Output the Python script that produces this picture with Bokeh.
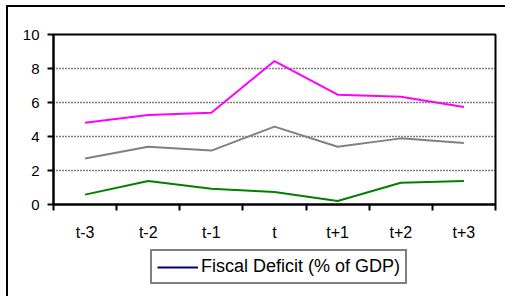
from bokeh.plotting import figure
from bokeh.layouts import column
from bokeh.models import (Range1d, FixedTicker, Legend, LegendItem, ColumnDataSource)
from bokeh.embed import file_html
from bokeh.resources import INLINE

periods = ["t-3", "t-2", "t-1", "t", "t+1", "t+2", "t+3"]
series_pink = [4.81, 5.26, 5.40, 8.44, 6.46, 6.34, 5.74]
series_gray = [2.70, 3.40, 3.17, 4.58, 3.40, 3.89, 3.62]
series_green = [0.58, 1.38, 0.93, 0.74, 0.21, 1.28, 1.38]
y_ticks = [0, 2, 4, 6, 8, 10]
legend_label = "Fiscal Deficit (% of GDP)"

n = len(periods)
xc = [i + 0.5 for i in range(n)]
bounds = list(range(n + 1))

FONT = "Liberation Sans"

p = figure(output_backend="svg", toolbar_location=None,
           x_range=Range1d(0, n), y_range=Range1d(0, 10),
           frame_width=442, frame_height=170,
           min_border_left=53, min_border_right=10, min_border_top=34,
           min_border_bottom=40)

p.background_fill_color = "white"
p.border_fill_color = None
p.outline_line_color = "black"
p.outline_line_width = 2

src = ColumnDataSource(dict(x=xc, pink=series_pink, gray=series_gray, green=series_green))
p.line("x", "pink", source=src, line_color="#FF00FF", line_width=2)
p.line("x", "gray", source=src, line_color="#808080", line_width=2)
p.line("x", "green", source=src, line_color="#008000", line_width=2)

xa = p.xaxis[0]
xa.ticker = FixedTicker(ticks=xc, minor_ticks=bounds)
xa.major_label_overrides = {c: lab for c, lab in zip(xc, periods)}
xa.major_tick_out = 0
xa.major_tick_in = 0
xa.minor_tick_out = 6
xa.minor_tick_in = 0
xa.minor_tick_line_color = "black"
xa.minor_tick_line_width = 2
xa.axis_line_width = 2
xa.axis_line_color = "black"
xa.major_label_standoff = 13
xa.major_label_text_font = FONT
xa.major_label_text_font_size = "16px"
xa.major_label_text_color = "black"

ya = p.yaxis[0]
ya.ticker = FixedTicker(ticks=y_ticks)
ya.major_tick_out = 6
ya.major_tick_in = 0
ya.major_tick_line_width = 2
ya.major_tick_line_color = "black"
ya.minor_tick_line_color = None
ya.axis_line_width = 2
ya.axis_line_color = "black"
ya.major_label_standoff = 8
ya.major_label_text_font = FONT
ya.major_label_text_font_size = "15px"
ya.major_label_text_color = "black"

p.xgrid.grid_line_color = None
p.ygrid.ticker = FixedTicker(ticks=[2, 4, 6, 8])
p.ygrid.grid_line_color = "black"
p.ygrid.grid_line_width = 1.5
p.ygrid.grid_line_dash = "1 2"

# legend strip below the chart (its series is not drawn on the chart)
pl = figure(output_backend="svg", toolbar_location=None,
            width=505, height=52, min_border=0,
            x_axis_location=None, y_axis_location=None,
            x_range=Range1d(0, n), y_range=Range1d(0, 10))
pl.background_fill_color = None
pl.border_fill_color = None
pl.outline_line_color = None
pl.grid.grid_line_color = None
legend_src = ColumnDataSource(dict(x=xc, y=series_green))
proxy = pl.line("x", "y", source=legend_src, line_color="#000080", line_width=2)
proxy.visible = False
legend = Legend(items=[LegendItem(label=legend_label, renderers=[proxy])],
                location=(97, 12), orientation="horizontal")
legend.border_line_color = "black"
legend.border_line_width = 2
legend.background_fill_color = "white"
legend.inactive_fill_alpha = 0
legend.label_text_font = FONT
legend.label_text_font_size = "18px"
legend.label_text_color = "black"
legend.glyph_width = 41
legend.glyph_height = 12
legend.label_height = 12
legend.label_standoff = 3
legend.padding = 5
legend.margin = 0
legend.spacing = 0
pl.add_layout(legend)

layout = column(p, pl, spacing=0)
# outer chart-area frame (left and top edges; right/bottom lie outside the picture)
layout.styles = {
    "background": ("linear-gradient(#000, #000) 6px 5px / 2px 100% no-repeat, "
                   "linear-gradient(#000, #000) 6px 5px / 100% 2px no-repeat, #fff"),
}

open("out.html", "w").write(file_html(layout, INLINE))
